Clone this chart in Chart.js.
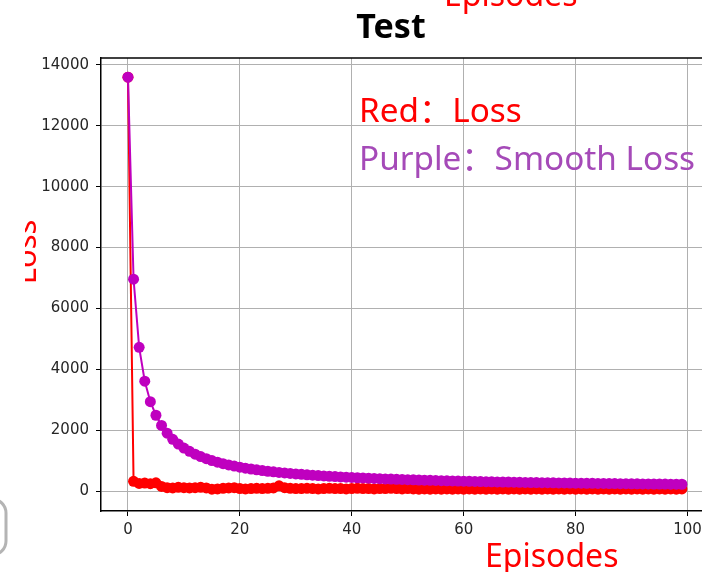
<!DOCTYPE html>
<html>
<head>
<meta charset="utf-8">
<script src="https://cdn.jsdelivr.net/npm/chart.js@4/dist/chart.umd.min.js"></script>
<style>
  html, body { margin: 0; padding: 0; background: #fff; overflow: hidden; }
  #wrap { width: 702px; height: 572px; overflow: hidden; }
  canvas { display: block; }
</style>
</head>
<body>
<div id="wrap"><canvas id="chart" width="712" height="572"></canvas></div>
<script>
// Episode indices (x axis)
const episodes = Array.from({ length: 100 }, (_, i) => i);

// Red: raw loss per episode
const loss = [
  13600, 320, 250, 260, 240, 270, 150, 110, 100, 120,
  110, 100, 110, 120, 100, 60, 70, 90, 100, 110,
  80, 70, 80, 90, 80, 90, 100, 170, 110, 90,
  80, 80, 90, 80, 70, 80, 90, 80, 80, 70,
  80, 90, 80, 80, 70, 80, 80, 90, 80, 70,
  80, 70, 60, 70, 60, 70, 60, 70, 60, 70,
  60, 70, 60, 70, 60, 70, 60, 70, 60, 70,
  60, 70, 60, 70, 60, 70, 60, 70, 60, 70,
  60, 70, 60, 70, 60, 70, 60, 70, 60, 70,
  60, 70, 60, 70, 60, 70, 60, 70, 60, 70
];

// Purple: smoothed loss per episode
const smoothLoss = [
  13600, 6960, 4723, 3608, 2934, 2490, 2156, 1900, 1700, 1542,
  1412, 1303, 1211, 1133, 1064, 1001, 946, 899, 857, 820,
  784, 752, 723, 696, 672, 649, 629, 612, 595, 578,
  562, 547, 533, 520, 507, 495, 484, 473, 463, 454,
  445, 436, 428, 420, 412, 405, 398, 391, 385, 379,
  373, 367, 362, 356, 351, 346, 341, 336, 331, 327,
  323, 318, 314, 311, 307, 303, 300, 296, 293, 290,
  286, 283, 280, 277, 275, 272, 269, 266, 264, 261,
  259, 257, 254, 252, 250, 248, 246, 244, 242, 240,
  238, 236, 234, 232, 230, 229, 227, 225, 224, 222
];

// Tick labels
const xTicks = [0, 20, 40, 60, 80, 100];
const yTicks = [0, 2000, 4000, 6000, 8000, 10000, 12000, 14000];

const RED = '#ff0000';
const MAGENTA = '#bf00bf';
const GRID = '#b0b0b0';

/**
 * Draws the top spine and the loose text pieces around the plot
 * (title, cut-off axis labels, annotations, the stray box on the left).
 */
const decorations = {
  id: 'decorations',
  afterDraw(chart) {
    const { ctx, chartArea } = chart;
    ctx.save();

    // top spine
    ctx.strokeStyle = '#000';
    ctx.lineWidth = 1.5;
    ctx.beginPath();
    ctx.moveTo(chartArea.left, chartArea.top);
    ctx.lineTo(chartArea.right, chartArea.top);
    ctx.stroke();

    // title
    ctx.fillStyle = '#000';
    ctx.textAlign = 'center';
    ctx.textBaseline = 'alphabetic';
    ctx.font = 'bold 34px "Noto Sans"';
    ctx.fillText('Test', 391, 38);

    // cut-off "Episodes" at the very top
    ctx.fillStyle = RED;
    ctx.textAlign = 'left';
    ctx.font = '32px "Noto Sans"';
    ctx.fillText('Episodes', 444, 6);

    // x axis label
    ctx.fillText('Episodes', 485, 567);

    // annotations
    ctx.font = '33.3px "Noto Sans", "Noto Sans CJK SC"';
    ctx.fillStyle = RED;
    ctx.fillText('Red：Loss', 359, 122);
    ctx.fillStyle = '#a54ab8';
    ctx.fillText('Purple：Smooth Loss', 359, 170);

    // y axis label, clipped on the left
    ctx.save();
    ctx.beginPath();
    ctx.rect(25, 0, 80, 572);
    ctx.clip();
    ctx.translate(36, 252);
    ctx.rotate(-Math.PI / 2);
    ctx.fillStyle = RED;
    ctx.textAlign = 'center';
    ctx.font = '31px "Noto Sans"';
    ctx.fillText('Loss', 0, 0);
    ctx.restore();

    // stray rounded box at the bottom-left edge
    ctx.strokeStyle = '#b4b4b4';
    ctx.lineWidth = 3;
    ctx.beginPath();
    ctx.roundRect(-40, 499, 46, 56, 14);
    ctx.stroke();

    ctx.restore();
  }
};

const tickFont = { family: '"DejaVu Sans"', size: 15 };

// only the listed ticks get a grid line
const gridColor = list => c => (c.tick && list.includes(c.tick.value) ? GRID : 'rgba(0,0,0,0)');

new Chart(document.getElementById('chart'), {
  type: 'line',
  data: {
    datasets: [
      {
        label: 'Smooth Loss',
        data: smoothLoss.map((v, i) => ({ x: episodes[i], y: v })),
        borderColor: MAGENTA,
        backgroundColor: MAGENTA,
        borderWidth: 2,
        pointRadius: 5.5,
        pointBorderWidth: 0,
        tension: 0,
        order: 0
      },
      {
        label: 'Loss',
        data: loss.map((v, i) => ({ x: episodes[i], y: v })),
        borderColor: RED,
        backgroundColor: RED,
        borderWidth: 2,
        pointRadius: 5.5,
        pointBorderWidth: 0,
        tension: 0,
        order: 1
      }
    ]
  },
  options: {
    responsive: false,
    animation: false,
    devicePixelRatio: 1,
    layout: { padding: { top: 58, right: 2, bottom: 0, left: 0 } },
    plugins: {
      legend: { display: false },
      tooltip: { enabled: false },
      title: { display: false }
    },
    scales: {
      x: {
        type: 'linear',
        min: -4.82,
        max: 103.4,
        afterBuildTicks: s => { s.ticks = xTicks.map(v => ({ value: v })); },
        afterFit: s => { s.height = 61; s.paddingLeft = 0; s.paddingRight = 0; },
        grid: { color: gridColor(xTicks), lineWidth: 1, tickLength: 5, tickColor: '#000' },
        border: { color: '#000', width: 1.5 },
        ticks: { font: tickFont, color: '#262626', padding: 5, maxRotation: 0, callback: v => String(v) }
      },
      y: {
        min: -657,
        max: 14230,
        afterBuildTicks: s => { s.ticks = yTicks.map(v => ({ value: v })); },
        afterFit: s => { s.width = 101; s.paddingTop = 0; s.paddingBottom = 0; },
        grid: { color: GRID, lineWidth: 1, tickLength: 5, tickColor: '#000' },
        border: { color: '#000', width: 1.5 },
        ticks: { font: tickFont, color: '#262626', padding: 7, callback: v => String(v) }
      }
    }
  },
  plugins: [decorations]
});
</script>
</body>
</html>
